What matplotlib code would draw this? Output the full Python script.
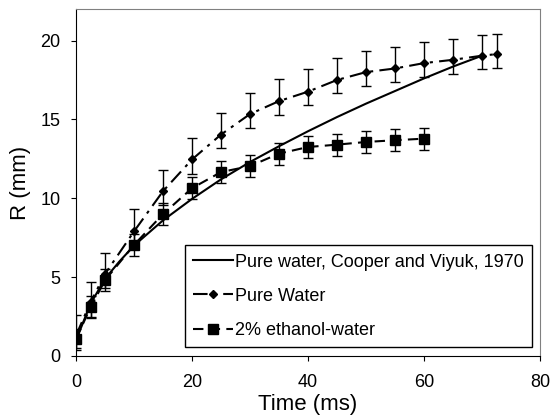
import matplotlib
matplotlib.use("Agg")
from matplotlib import pyplot as plt

plt.rcParams['font.family'] = ['Liberation Sans', 'DejaVu Sans']

# Cooper and Viyuk (1970) curve
t_cooper = [0, 2.5, 5, 7.5, 10, 15, 20, 25, 30, 35, 40, 45, 50, 55, 60, 65, 70]
r_cooper = [1.0, 3.3, 4.9, 6.0, 7.0, 8.6, 9.96, 11.2, 12.3, 13.3, 14.25,
            15.15, 16.0, 16.8, 17.6, 18.35, 19.04]

# pure water measurements
t_water = [0, 2.5, 5, 10, 15, 20, 25, 30, 35, 40, 45, 50, 55, 60, 65, 70, 72.5]
r_water = [1.3, 3.4, 5.2, 7.9, 10.45, 12.46, 14.04, 15.34, 16.16, 16.76,
           17.5, 18.0, 18.23, 18.57, 18.78, 19.04, 19.14]
err_water_lo = [0.9, 0.9, 0.9, 0.9, 0.9, 0.9, 0.87, 0.87, 0.87, 0.85,
                0.85, 0.85, 0.85, 0.85, 0.87, 0.87, 0.87]
err_water_hi = [1.3, 1.3, 1.3, 1.4, 1.35, 1.35, 1.35, 1.35, 1.4, 1.42,
                1.4, 1.35, 1.35, 1.35, 1.3, 1.3, 1.3]

# 2% ethanol-water measurements
t_eth = [0, 2.5, 5, 10, 15, 20, 25, 30, 35, 40, 45, 50, 55, 60]
r_eth = [1.08, 3.08, 4.8, 7.04, 9.0, 10.64, 11.66, 12.04, 12.83, 13.25,
         13.4, 13.57, 13.68, 13.78]
err_eth = [0.6, 0.7, 0.7, 0.7, 0.7, 0.7, 0.7, 0.7, 0.7, 0.68, 0.7, 0.7, 0.7, 0.7]

fig = plt.figure(figsize=(5.52, 4.17), dpi=100)
ax = fig.add_axes([0.1377, 0.1463, 0.8406, 0.8321])

ax.plot(t_cooper, r_cooper, color='black', lw=1.5,
        label='Pure water, Cooper and Viyuk, 1970')

# error bars first, lines with markers on top (legend shows no bars)
ax.errorbar(t_water, r_water, yerr=[err_water_lo, err_water_hi], fmt='none',
            ecolor='black', elinewidth=1, capsize=3.5, capthick=1)
ax.plot(t_water, r_water, color='black', lw=1.5, ls=(0, (7, 3, 1.5, 3)),
        marker='D', ms=4, label='Pure Water')

ax.errorbar(t_eth, r_eth, yerr=err_eth, fmt='none', ecolor='black',
            elinewidth=1, capsize=3.5, capthick=1)
ax.plot(t_eth, r_eth, color='black', lw=1.5, ls=(0, (5, 3)),
        marker='s', ms=7, label='2% ethanol-water')

ax.set_xlim(0, 80)
ax.set_ylim(0, 22)
ax.set_xticks([0, 20, 40, 60, 80])
ax.set_yticks([0, 5, 10, 15, 20])
ax.tick_params(direction='out', length=3.6, labelsize=13, color='black')
ax.tick_params(axis='x', pad=9.5)
ax.tick_params(axis='y', pad=7.5)
ax.set_xlabel('Time (ms)', fontsize=16, labelpad=2)
ax.set_ylabel('R (mm)', fontsize=16, labelpad=7)

for s in ['top', 'right']:
    ax.spines[s].set_color('#808080')
for s in ['left', 'bottom']:
    ax.spines[s].set_color('black')

leg = ax.legend(loc='lower right', bbox_to_anchor=(0.983, 0.026),
                fontsize=13, fancybox=False, edgecolor='black',
                framealpha=1, handlelength=2.2, handletextpad=0.15,
                borderpad=0.45, labelspacing=0.95, borderaxespad=0)
leg.get_frame().set_linewidth(1)

fig.savefig('out.png', dpi=100)
